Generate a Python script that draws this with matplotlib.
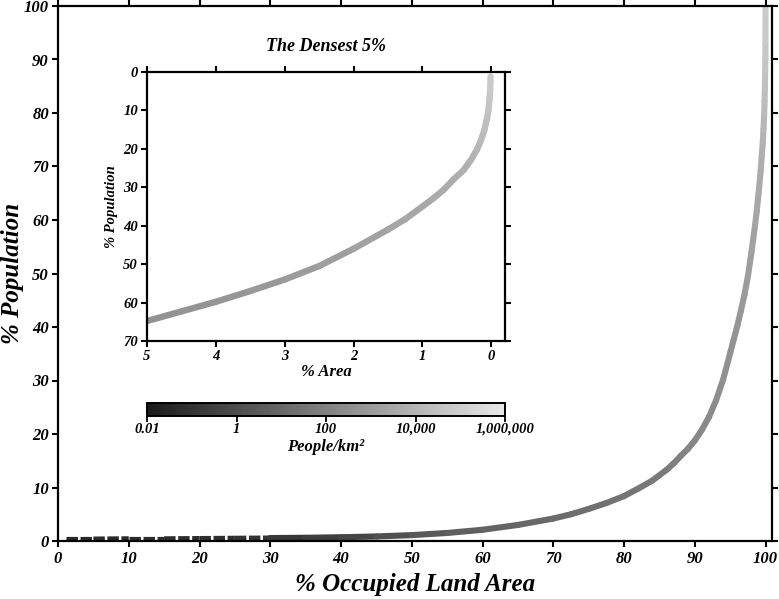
import numpy as np
import matplotlib
matplotlib.use("Agg")
from matplotlib import pyplot as plt
from matplotlib.collections import LineCollection
from matplotlib.colors import LogNorm, LinearSegmentedColormap
from matplotlib.cm import ScalarMappable

# main curve: cumulative % population vs % occupied land area (least dense first)
area_pct = [1.2, 5, 10, 15, 20, 25, 30, 35, 40, 45,
            50, 55, 60, 65, 70, 72.5, 75, 77.5, 80, 82,
            84, 86, 87, 88, 89, 90, 91, 92, 93, 94,
            95, 95.5, 96, 96.5, 97, 97.5, 98, 98.5, 98.75, 99,
            99.3, 99.45, 99.6, 99.7, 99.79, 99.85, 99.9, 99.94, 99.96, 99.975,
            99.99]
pop_pct = [0.35, 0.35, 0.4, 0.4, 0.45, 0.5, 0.55, 0.6, 0.7, 0.85,
           1.1, 1.5, 2.1, 3.0, 4.2, 5.0, 6.0, 7.1, 8.4, 9.8,
           11.3, 13.3, 14.5, 15.9, 17.2, 18.8, 20.8, 23.2, 26.3, 30.2,
           35.2, 37.7, 40.2, 43, 46, 49.5, 54, 59, 61.7, 65,
           69.2, 72, 74.5, 77, 79.7, 82.2, 84.9, 88, 90.1, 93,
           99.5]
# people per km2 along the main curve (read from the grey shade)
density = [0.04, 0.04, 0.05, 0.05, 0.06, 0.08, 0.1, 0.2, 0.3, 0.8,
           2, 4, 6, 9, 14, 17, 20, 25, 30, 38,
           48, 65, 80, 100, 125, 160, 190, 230, 280, 350,
           450, 520, 600, 750, 900, 1200, 1500, 2200, 2600, 3000,
           4500, 6000, 8000, 10000, 15000, 20000, 25000, 35000, 45000, 60000,
           80000]

# inset: the densest 5% (area counted from the densest end)
inset_area = [5, 4.5, 4, 3.5, 3, 2.5, 2, 1.5, 1.25, 1, 0.85, 0.7, 0.55, 0.4,
              0.3, 0.21, 0.15, 0.1, 0.06, 0.04, 0.025, 0.015, 0.01]
inset_pop = [64.8, 62.3, 59.8, 57, 54, 50.5, 46, 41, 38.3, 35, 33, 30.8, 28,
             25.5, 23, 20.3, 17.8, 15.1, 12, 9.9, 7, 4.5, 1.2]
inset_density = [450, 520, 600, 750, 900, 1200, 1500, 2200, 2600, 3000, 3500,
                 4500, 5200, 6000, 8000, 10000, 15000, 20000, 25000, 35000,
                 45000, 60000, 80000]

cbar_ticks = [1e-2, 1, 1e2, 1e4, 1e6]
cbar_labels = ['0.01', '1', '100', '10,000', '1,000,000']

plt.rcParams['font.family'] = ['Liberation Serif', 'DejaVu Serif']
plt.rcParams['font.weight'] = 'bold'
plt.rcParams['font.style'] = 'italic'
plt.rcParams['axes.titleweight'] = 'bold'
plt.rcParams['axes.labelweight'] = 'bold'

cmap = LinearSegmentedColormap.from_list('grey', ['#1a1a1a', '#e8e8e8'])
norm = LogNorm(vmin=1e-2, vmax=1e6)


def colored_line(ax, x, y, c, lw, dashed_below=None):
    x = np.asarray(x, float)
    y = np.asarray(y, float)
    c = np.asarray(c, float)
    pts = np.column_stack([x, y]).reshape(-1, 1, 2)
    segs = np.concatenate([pts[:-1], pts[1:]], axis=1)
    cval = np.sqrt(c[:-1] * c[1:])
    if dashed_below is not None:
        low = x[1:] <= dashed_below
        lc1 = LineCollection(segs[low], cmap=cmap, norm=norm, linewidths=lw * 0.85,
                             linestyles=(0, (2.2, 0.5)), capstyle='butt')
        lc1.set_array(cval[low])
        ax.add_collection(lc1)
        segs, cval = segs[~low], cval[~low]
    lc = LineCollection(segs, cmap=cmap, norm=norm, linewidths=lw,
                        capstyle='round', joinstyle='round')
    lc.set_array(cval)
    ax.add_collection(lc)


def style_axes(ax, size):
    for s in ax.spines.values():
        s.set_linewidth(1.6)
    ax.tick_params(which='both', direction='out', length=4.5, width=1.5,
                   top=True, right=True, labeltop=False, labelright=False,
                   labelsize=size, pad=2)


fig = plt.figure(figsize=(7.79, 5.99), dpi=100)

# main axes
ax = fig.add_axes([58 / 779, 1 - 541 / 599, (772 - 58) / 779, (541 - 6) / 599])
colored_line(ax, area_pct, pop_pct, density, 4.4, dashed_below=30)
ax.set_xlim(0, 100.9)
ax.set_ylim(0, 100)
ax.set_xticks(range(0, 101, 10))
ax.set_yticks(range(0, 101, 10))
style_axes(ax, 12)
ax.tick_params(axis='x', pad=3)
ax.set_xlabel('% Occupied Land Area', fontsize=18, labelpad=4)
fig.text(13 / 779, 1 - 273 / 599, '% Population', rotation=90, fontsize=18,
         ha='center', va='center')

# inset axes
ax_in = fig.add_axes([147 / 779, 1 - 341 / 599, (505 - 147) / 779, (341 - 72) / 599])
colored_line(ax_in, inset_area, inset_pop, inset_density, 4.6)
ax_in.set_xlim(5, -0.2)
ax_in.set_ylim(70, 0)
ax_in.set_xticks(range(5, -1, -1))
ax_in.set_yticks(range(0, 71, 10))
style_axes(ax_in, 10.5)
ax_in.set_title('The Densest 5%', fontsize=13, pad=15)
ax_in.set_xlabel('% Area', fontsize=12, labelpad=1)
ax_in.set_ylabel('% Population', fontsize=10.5, labelpad=4)

# colour bar
cax = fig.add_axes([147 / 779, 1 - 416 / 599, (505 - 147) / 779, 13 / 599])
sm = ScalarMappable(norm=norm, cmap=cmap)
cb = fig.colorbar(sm, cax=cax, orientation='horizontal')
cb.set_ticks(cbar_ticks)
cb.set_ticklabels(cbar_labels)
cb.minorticks_off()
cb.outline.set_linewidth(1.4)
cax.tick_params(direction='out', length=4, width=1.3, labelsize=10.5, pad=1)
cb.set_label('People/km²', fontsize=12, labelpad=2)

fig.savefig('out.png', dpi=100)
